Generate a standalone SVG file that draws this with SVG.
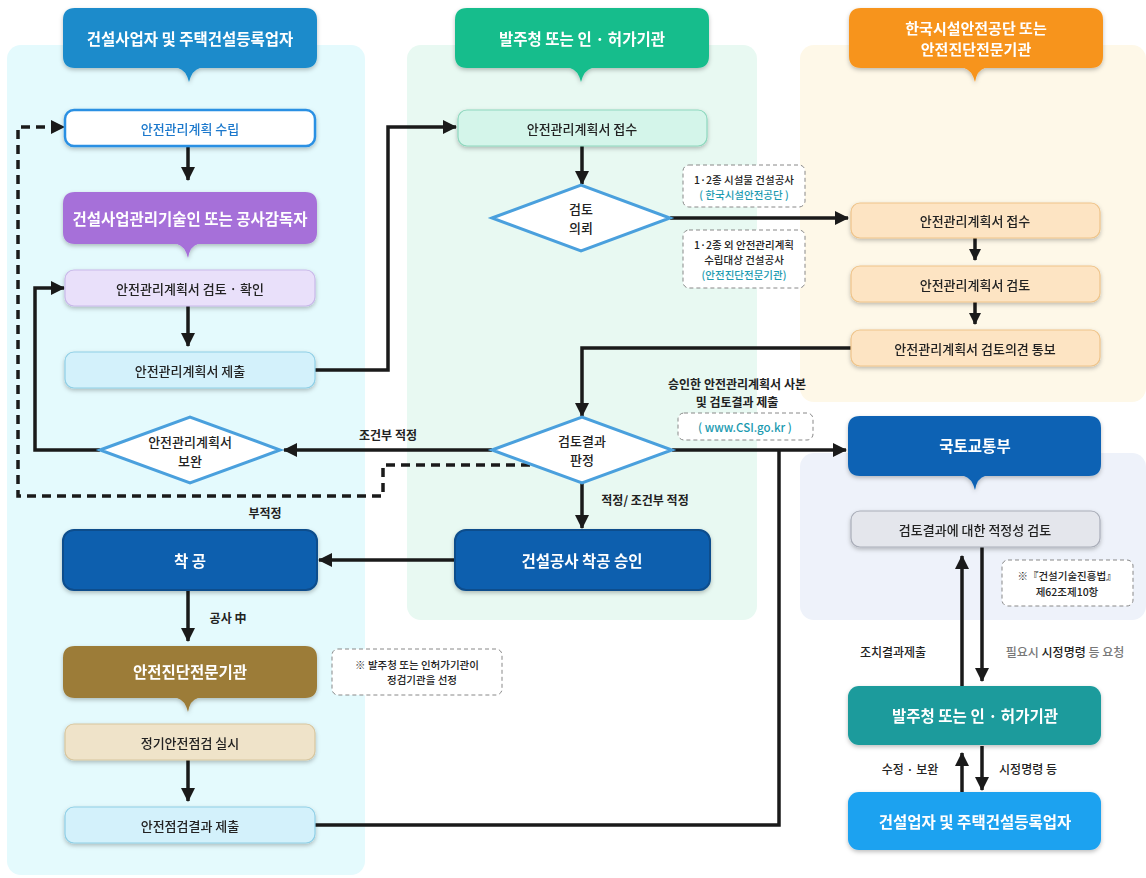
<svg xmlns="http://www.w3.org/2000/svg" width="1146" height="878" viewBox="0 0 1146 878">
<defs>
<filter id="sh" x="-10%" y="-20%" width="120%" height="150%"><feDropShadow dx="0" dy="2" stdDeviation="2" flood-color="#000" flood-opacity="0.25"/></filter>
<marker id="ah" markerUnits="userSpaceOnUse" markerWidth="14" markerHeight="14" refX="13" refY="7" orient="auto"><path d="M0,0 L14,7 L0,14 z" fill="#1a1a1a"/></marker>
<marker id="ahs" markerUnits="userSpaceOnUse" markerWidth="12" markerHeight="12" refX="11" refY="6" orient="auto"><path d="M0,0 L12,6 L0,12 z" fill="#1a1a1a"/></marker>
</defs>
<style>
text{font-family:"Noto Sans CJK KR","Noto Sans",sans-serif;text-anchor:middle;dominant-baseline:central}
.hd{fill:#fff;font-size:15.5px;font-weight:700}
.hd2{fill:#fff;font-size:15px;font-weight:700}
.nd{fill:#222;font-size:13px;font-weight:500}
.lb{fill:#222;font-size:12px;font-weight:700}
.lr{fill:#222;font-size:12px;font-weight:500}
.nt{fill:#222;font-size:10.5px;font-weight:500}
.teal{fill:#1a9ab0}
.box{stroke-width:1.2}
.ln{fill:none;stroke:#1a1a1a;stroke-width:3.5}
.dl{fill:none;stroke:#1a1a1a;stroke-width:3.5;stroke-dasharray:9 6}
.note{fill:#fff;stroke:#888;stroke-width:1;stroke-dasharray:4 3}
.dia{fill:#fff;stroke:#4aa0dd;stroke-width:3}
</style>
<rect width="1146" height="878" fill="#fff"/>
<!-- panels -->
<g id="panels">
<rect x="7" y="45" width="358" height="830" rx="14" fill="#e4fafd"/>
<rect x="407" y="45" width="350" height="575" rx="14" fill="#e8f9f2"/>
<rect x="800" y="45" width="346" height="357" rx="14" fill="#fef8e8"/>
<rect x="800" y="453" width="346" height="167" rx="14" fill="#eef2fa"/>
</g>
<!-- connectors -->
<g id="connectors">
<line class="ln" x1="188" y1="147" x2="188" y2="180" marker-end="url(#ah)"/>
<line class="ln" x1="188" y1="306" x2="188" y2="346" marker-end="url(#ah)"/>
<polyline class="ln" points="315,370 388,370 388,127 456,127" marker-end="url(#ah)"/>
<line class="ln" x1="582" y1="146" x2="582" y2="184" marker-end="url(#ah)"/>
<line class="ln" x1="670" y1="218" x2="848" y2="218" marker-end="url(#ah)"/>
<line class="ln" x1="975" y1="238" x2="975" y2="260" marker-end="url(#ahs)"/>
<line class="ln" x1="975" y1="302" x2="975" y2="324" marker-end="url(#ahs)"/>
<polyline class="ln" points="851,348 582,348 582,416" marker-end="url(#ah)"/>
<line class="ln" x1="492" y1="450" x2="284" y2="450" marker-end="url(#ah)"/>
<polyline class="ln" points="100,450 35,450 35,288 64,288" marker-end="url(#ah)"/>
<polyline class="dl" points="530,465 383,465 383,496 18,496 18,127 64,127" marker-end="url(#ah)"/>
<line class="ln" x1="582" y1="483" x2="582" y2="528" marker-end="url(#ah)"/>
<line class="ln" x1="455" y1="560" x2="319" y2="560" marker-end="url(#ah)"/>
<line class="ln" x1="188" y1="590" x2="188" y2="641" marker-end="url(#ah)"/>
<line class="ln" x1="188" y1="760" x2="188" y2="801" marker-end="url(#ah)"/>
<polyline class="ln" points="315,825 779,825 779,450"/>
<line class="ln" x1="672" y1="450" x2="846" y2="450" marker-end="url(#ah)"/>
<line class="ln" x1="962" y1="686" x2="962" y2="556" marker-end="url(#ah)"/>
<line class="ln" x1="982" y1="547" x2="982" y2="681" marker-end="url(#ah)"/>
<line class="ln" x1="962" y1="792" x2="962" y2="753" marker-end="url(#ah)"/>
<line class="ln" x1="982" y1="746" x2="982" y2="790" marker-end="url(#ah)"/>
<text class="lb" x="388" y="434">조건부 적정</text>
<text class="lb" x="265" y="512">부적정</text>
<text class="lb" x="645" y="499">적정/ 조건부 적정</text>
<text class="lb" x="228" y="617">공사 中</text>
<text class="lb" x="737" y="383">승인한 안전관리계획서 사본</text>
<text class="lb" x="737" y="401">및 검토결과 제출</text>
<text class="lr" x="893" y="651">조치결과제출</text>
<text class="lr" x="1065" y="651" style="fill:#777">필요시 <tspan style="fill:#222">시정명령</tspan> 등 요청</text>
<text class="lr" x="910" y="768">수정 · 보완</text>
<text class="lr" x="1028" y="768">시정명령 등</text>
</g>
<!-- headers -->
<g id="hdr-contractor" filter="url(#sh)">
<path d="M75,8 H305 Q317,8 317,20 V56 Q317,68 305,68 H200 Q192,70 189,82 Q186,70 178,68 H75 Q63,68 63,56 V20 Q63,8 75,8 Z" fill="#1a8bcb"/>
<text class="hd" x="190" y="38">건설사업자 및 주택건설등록업자</text>
</g>
<g id="hdr-client" filter="url(#sh)">
<path d="M467,8 H697 Q709,8 709,20 V56 Q709,68 697,68 H592 Q584,70 581,82 Q578,70 570,68 H467 Q455,68 455,56 V20 Q455,8 467,8 Z" fill="#19bd8c"/>
<text class="hd" x="582" y="38">발주청 또는 인 · 허가기관</text>
</g>
<g id="hdr-kistec" filter="url(#sh)">
<path d="M861,8 H1091 Q1103,8 1103,20 V56 Q1103,68 1091,68 H985 Q977,70 975,82 Q972,70 964,68 H861 Q849,68 849,56 V20 Q849,8 861,8 Z" fill="#f7941d"/>
<text class="hd2" x="976" y="27">한국시설안전공단 또는</text>
<text class="hd2" x="976" y="48">안전진단전문기관</text>
</g>
<g id="hdr-molit" filter="url(#sh)">
<path d="M860,416 H1089 Q1101,416 1101,428 V464 Q1101,476 1089,476 H985 Q977,478 975,490 Q972,478 964,476 H860 Q848,476 848,464 V428 Q848,416 860,416 Z" fill="#0b62b4"/>
<text class="hd" x="975" y="445">국토교통부</text>
</g>
<g id="hdr-cm" filter="url(#sh)">
<path d="M75,192 H305 Q317,192 317,204 V232 Q317,244 305,244 H198 Q190,246 188,258 Q185,246 177,244 H75 Q63,244 63,232 V204 Q63,192 75,192 Z" fill="#a66fd9"/>
<text class="hd" x="190" y="218">건설사업관리기술인 또는 공사감독자</text>
</g>
<g id="hdr-diag" filter="url(#sh)">
<path d="M75,646 H305 Q317,646 317,658 V686 Q317,698 305,698 H198 Q190,700 188,712 Q185,700 177,698 H75 Q63,698 63,686 V658 Q63,646 75,646 Z" fill="#9c7b37"/>
<text class="hd" x="190" y="671">안전진단전문기관</text>
</g>
<!-- left column nodes -->
<g id="n-plan" filter="url(#sh)"><rect x="65" y="110" width="250" height="36" rx="9" fill="#fff" stroke="#2b90e3" stroke-width="2.5"/><text class="nd" x="190" y="128" style="fill:#1a78cc">안전관리계획 수립</text></g>
<g id="n-check" filter="url(#sh)"><rect class="box" x="65" y="270" width="250" height="36" rx="9" fill="#e9e0fa" stroke="#c9b8ea"/><text class="nd" x="190" y="288">안전관리계획서 검토 ·  확인</text></g>
<g id="n-submit" filter="url(#sh)"><rect class="box" x="65" y="352" width="250" height="36" rx="9" fill="#d3f1fb" stroke="#8fcfe6"/><text class="nd" x="190" y="370">안전관리계획서 제출</text></g>
<g id="n-supp"><polygon class="dia" points="100,450 190,417 280,450 190,483"/><text class="nd" x="190" y="441">안전관리계획서</text><text class="nd" x="190" y="460">보완</text></g>
<g id="n-start" filter="url(#sh)"><rect x="63" y="530" width="254" height="60" rx="11" fill="#0a5eae" stroke="#0a4d8c" stroke-width="2"/><text class="hd" x="190" y="560">착 공</text></g>
<g id="n-insp" filter="url(#sh)"><rect class="box" x="65" y="724" width="250" height="36" rx="9" fill="#efe3c9" stroke="#d8c69e"/><text class="nd" x="190" y="742">정기안전점검 실시</text></g>
<g id="n-result" filter="url(#sh)"><rect class="box" x="65" y="807" width="250" height="36" rx="9" fill="#d3f1fb" stroke="#8fcfe6"/><text class="nd" x="190" y="825">안전점검결과 제출</text></g>
<g id="note-sel"><rect class="note" x="332" y="649" width="170" height="46" rx="6"/><text class="nt" x="417" y="664">※ 발주청 또는 인허가기관이</text><text class="nt" x="422" y="679">정검기관을 선정</text></g>
<!-- middle nodes -->
<g id="n-recv" filter="url(#sh)"><rect class="box" x="458" y="110" width="249" height="36" rx="9" fill="#d4f5ea" stroke="#8ed8be"/><text class="nd" x="582" y="128">안전관리계획서 접수</text></g>
<g id="n-req"><polygon class="dia" points="492,218 581,185 670,218 581,251"/><text class="nd" x="581" y="208">검토</text><text class="nd" x="581" y="227">의뢰</text></g>
<g id="n-judge"><polygon class="dia" points="492,450 582,417 672,450 582,483"/><text class="nd" x="582" y="440">검토결과</text><text class="nd" x="582" y="459">판정</text></g>
<g id="n-approve" filter="url(#sh)"><rect x="455" y="530" width="255" height="60" rx="11" fill="#0a5eae" stroke="#0a4d8c" stroke-width="2"/><text class="hd" x="582" y="560">건설공사 착공 승인</text></g>
<g id="note-12"><rect class="note" x="683" y="165" width="122" height="42" rx="6"/><text class="nt" x="744" y="179">1·2종 시설물 건설공사</text><text class="nt teal" x="744" y="194">( 한국시설안전공단 )</text></g>
<g id="note-etc"><rect class="note" x="683" y="230" width="122" height="58" rx="6"/><text class="nt" x="744" y="244">1·2종 외 안전관리계획</text><text class="nt" x="744" y="259">수립대상 건설공사</text><text class="nt teal" x="744" y="274">(안전진단전문기관)</text></g>
<g id="note-csi"><rect class="note" x="678" y="413" width="135" height="27" rx="6"/><text class="nt teal" x="745" y="427" style="font-size:11.5px">( www.CSI.go.kr )</text></g>
<!-- right nodes -->
<g id="n-r-recv" filter="url(#sh)"><rect class="box" x="851" y="203" width="249" height="35" rx="9" fill="#fde4c3" stroke="#efc48a"/><text class="nd" x="975" y="220">안전관리계획서 접수</text></g>
<g id="n-r-rev" filter="url(#sh)"><rect class="box" x="851" y="266" width="249" height="36" rx="9" fill="#fde4c3" stroke="#efc48a"/><text class="nd" x="975" y="284">안전관리계획서 검토</text></g>
<g id="n-r-notify" filter="url(#sh)"><rect class="box" x="851" y="330" width="249" height="36" rx="9" fill="#fde4c3" stroke="#efc48a"/><text class="nd" x="975" y="348">안전관리계획서 검토의견 통보</text></g>
<g id="n-adequacy" filter="url(#sh)"><rect class="box" x="851" y="511" width="249" height="36" rx="9" fill="#e4e6ec" stroke="#a9adb8"/><text class="nd" x="975" y="529">검토결과에 대한 적정성 검토</text></g>
<g id="note-law"><rect class="note" x="1002" y="560" width="131" height="46" rx="6"/><text class="nt" x="1067" y="575">※『건설기술진흥법』</text><text class="nt" x="1067" y="591">제62조제10항</text></g>
<g id="n-client2" filter="url(#sh)"><rect x="848" y="686" width="253" height="59" rx="11" fill="#1a9b9c"/><text class="hd" x="975" y="715">발주청 또는 인 · 허가기관</text></g>
<g id="n-contractor2" filter="url(#sh)"><rect x="848" y="792" width="253" height="58" rx="11" fill="#1fa2f0"/><text class="hd" x="975" y="821">건설업자 및 주택건설등록업자</text></g>
</svg>
